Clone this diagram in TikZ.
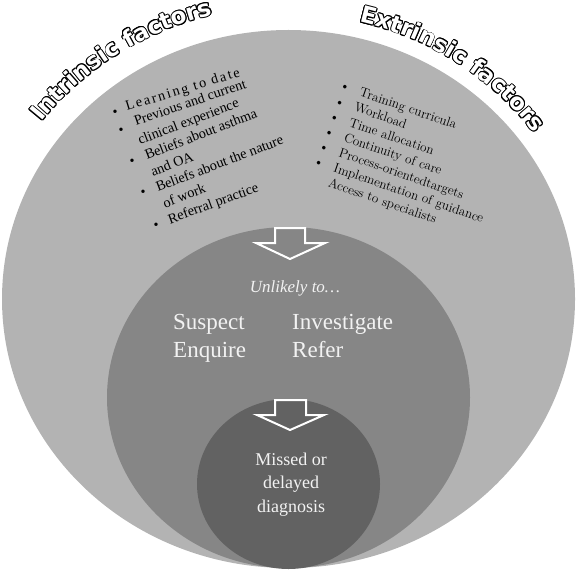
\documentclass[tikz,border=0pt]{standalone}
\usepackage{fontspec}
\usetikzlibrary{shapes.geometric,decorations.text}
\newfontfamily\garafont{Liberation Serif}
\newfontfamily\titlefont{DejaVu Sans}
\definecolor{outerc}{RGB}{179,179,179}
\definecolor{midc}{RGB}{134,134,134}
\definecolor{innerc}{RGB}{98,98,98}
\definecolor{softwhite}{RGB}{242,242,242}
\newcommand\ttlblack{\titlefont\bfseries\fontsize{23}{27}\selectfont\color{black}}
\newcommand\ttlwhite{\titlefont\bfseries\fontsize{23}{27}\selectfont\color{white}}
\tikzset{
  ring/.style={ellipse, inner sep=0pt, outer sep=0pt, draw=none},
  blockarrow/.style={draw=white, line width=2pt, line join=miter},
  intline/.style={inner sep=0pt, outer sep=0pt, anchor=base west, text=black, font=\garafont\fontsize{14.2}{17}\selectfont},
  intbullet/.style={inner sep=0pt, outer sep=0pt, anchor=center, text=black, font=\garafont\fontsize{14.2}{17}\selectfont},
  listtext/.style={inner sep=0pt, outer sep=0pt, align=left, text=black},
  midword/.style={inner sep=0pt, text=softwhite, font=\garafont\fontsize{23}{28}\selectfont},
}
\begin{document}
\begin{tikzpicture}[x=1pt,y=1pt]
\useasboundingbox (0,0) rectangle (577,571);
% nested ellipses
\node[ring, fill=outerc, minimum width=573pt, minimum height=538pt] (outer) at (288.5,272) {};
\node[ring, fill=midc, minimum width=363pt, minimum height=341pt] (middle) at (288.5,173.5) {};
\node[ring, fill=innerc, minimum width=183pt, minimum height=170pt] (inner) at (288.5,87) {};
% block arrows
\draw[blockarrow, fill=midc] (275,343) -- (305,343) -- (305,328) -- (325,328) -- (290,312) -- (256,328) -- (275,328) -- cycle;
\draw[blockarrow, fill=innerc] (275,171) -- (306,171) -- (306,156) -- (324,156) -- (290,141) -- (257,156) -- (275,156) -- cycle;
% curved outlined titles
\foreach \a in {0,30,...,330} {
  \path[shift={(\a:0.9pt)}, decorate, decoration={text along path, text align=center, text={|\ttlblack|Intrinsic factors}}]
    (288.5,272) ++(166.5:310pt and 293pt) arc[start angle=166.5, end angle=81.5, x radius=310pt, y radius=293pt];
  \path[shift={(\a:0.9pt)}, decorate, decoration={text along path, text align=center, text={|\ttlblack|Extrinsic factors}}]
    (288.5,272) ++(98:302pt and 285pt) arc[start angle=98, end angle=13, x radius=302pt, y radius=285pt];
}
\path[decorate, decoration={text along path, text align=center, text={|\ttlwhite|Intrinsic factors}}]
  (288.5,272) ++(166.5:310pt and 293pt) arc[start angle=166.5, end angle=81.5, x radius=310pt, y radius=293pt];
\path[decorate, decoration={text along path, text align=center, text={|\ttlwhite|Extrinsic factors}}]
  (288.5,272) ++(98:302pt and 285pt) arc[start angle=98, end angle=13, x radius=302pt, y radius=285pt];
% intrinsic list (slightly arched lines)
\node[intbullet] (ib1) at (115,458) {\textbullet};
\node[intbullet] (ib2) at (121,440) {\textbullet};
\node[intbullet] (ib3) at (132,409) {\textbullet};
\node[intbullet] (ib4) at (143,378) {\textbullet};
\node[intbullet] (ib5) at (156,345) {\textbullet};
\node[intline, rotate=17] (il1) at (127,460) {\addfontfeature{LetterSpace=14}Learning to date};
\node[intline, rotate=19] (il2) at (136,445) {Previous and current};
\node[intline, rotate=21] (il3) at (140,426) {clinical experience};
\node[intline, rotate=21.3] (il4) at (147,411) {Beliefs about asthma};
\node[intline, rotate=22] (il5) at (153,394) {and OA};
\node[intline, rotate=21] (il6) at (158,379) {Beliefs about the nature};
\node[intline, rotate=21] (il7) at (165,363) {of work};
\node[intline, rotate=20] (il8) at (170,347) {Referral practice};
% extrinsic list
\node[listtext, rotate=-19, anchor=base west, font=\fontsize{13.2}{16}\selectfont] (extr) at (339,482)
 {\begin{tabular}[t]{@{}l@{\hspace{11pt}}l@{}}
  \textbullet & Training curricula\\
  \textbullet & Workload\\
  \textbullet & Time allocation\\
  \textbullet & Continuity of care\\
  \textbullet & Process-orientedtargets\\
  \textbullet & Implementation of guidance\\
              & Access to specialists
  \end{tabular}};
% middle texts
\node[inner sep=0pt, anchor=base, text=softwhite, font=\garafont\itshape\fontsize{17}{20}\selectfont] (unlikely) at (295,279) {Unlikely to\ldots};
\node[midword, anchor=base west] (suspect) at (173,242) {Suspect};
\node[midword, anchor=base west] (enquire) at (173,214) {Enquire};
\node[midword, anchor=base west] (investigate) at (292,242) {Investigate};
\node[midword, anchor=base west] (refer) at (292,214) {Refer};
% inner text
\node[inner sep=0pt, anchor=base, align=center, text=softwhite, font=\garafont\fontsize{18}{23.5}\selectfont] (missed) at (291,59) {Missed or\\delayed\\diagnosis};
\end{tikzpicture}
\end{document}
